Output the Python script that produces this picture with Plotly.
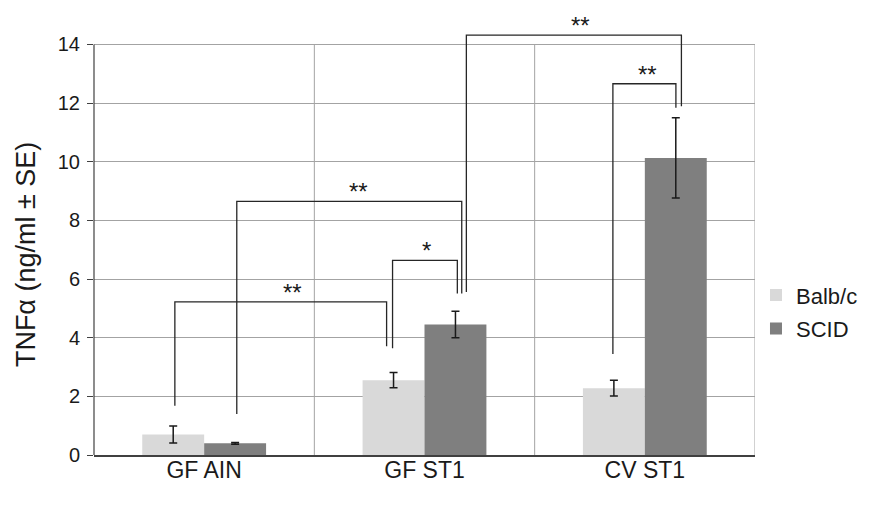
import plotly.graph_objects as go

categories = ["GF AIN", "GF ST1", "CV ST1"]
balbc = [0.70, 2.55, 2.28]
balbc_se = [0.29, 0.26, 0.27]
scid = [0.40, 4.45, 10.13]
scid_se = [0.03, 0.45, 1.37]
y_ticks = [0, 2, 4, 6, 8, 10, 12, 14]
y_title = "TNFα (ng/ml ± SE)"

# significance brackets: x-left, x-right (category units), top, left foot, right foot, label
sig_x_left = [-0.133, 0.148, 0.855, 1.190, 1.855]
sig_x_right = [0.828, 1.169, 1.149, 2.166, 2.141]
sig_top = [5.22, 8.65, 6.64, 14.32, 12.66]
sig_left_foot = [1.68, 1.40, 3.64, 5.56, 3.44]
sig_right_foot = [3.71, 5.51, 5.51, 11.89, 11.84]
sig_label = ["**", "**", "*", "**", "**"]
sig_label_x = [0.40, 0.70, 1.01, 1.71, 2.01]

FONT = "Liberation Sans, Arial, sans-serif"
GRID = "#a3a3a3"

fig = go.Figure()
fig.add_trace(go.Bar(
    name="Balb/c", x=categories, y=balbc, marker_color="#d9d9d9",
    marker_line_width=0, legendgroup="a",
    error_y=dict(type="data", array=balbc_se, color="#1a1a1a", thickness=1.5, width=4),
))
fig.add_trace(go.Bar(
    name="SCID", x=categories, y=scid, marker_color="#7f7f7f",
    marker_line_width=0, legendgroup="b",
    error_y=dict(type="data", array=scid_se, color="#1a1a1a", thickness=1.5, width=4),
))

shapes = []
# category boundary grid lines and right border
for xb in [0.5, 1.5, 2.5]:
    shapes.append(dict(type="line", xref="x", yref="y", x0=xb, x1=xb, y0=0, y1=14,
                       line=dict(color=GRID, width=1), layer="below"))
# y axis line up to 14
shapes.append(dict(type="line", xref="paper", yref="y", x0=0, x1=0, y0=0, y1=14,
                   line=dict(color="#404040", width=1.2), layer="above"))

annotations = []
for xl, xr, top, lf, rf, lab, lx in zip(sig_x_left, sig_x_right, sig_top,
                                       sig_left_foot, sig_right_foot, sig_label, sig_label_x):
    shapes.append(dict(type="path", xref="x", yref="y",
                       path=f"M {xl},{lf} L {xl},{top} L {xr},{top} L {xr},{rf}",
                       line=dict(color="#262626", width=1.3)))
    annotations.append(dict(x=lx, y=top, xref="x", yref="y", text=lab, showarrow=False,
                            yanchor="bottom", yshift=-6,
                            font=dict(family=FONT, size=24, color="#1a1a1a")))

# y-axis title (centred on the 0-14 span of the axis)
annotations.append(dict(x=-0.1029, xref="paper", y=6.85, yref="y", text=y_title,
                        textangle=-90, showarrow=False, xanchor="center", yanchor="middle",
                        font=dict(family=FONT, size=27, color="#1a1a1a")))

fig.update_layout(
    width=875, height=505,
    margin=dict(l=86, r=128, t=12.5, b=58, autoexpand=False),
    paper_bgcolor="white", plot_bgcolor="white",
    barmode="group", bargap=0.438, bargroupgap=0,
    font=dict(family=FONT, color="#1a1a1a"),
    shapes=shapes, annotations=annotations,
    legend=dict(x=1.0015, y=0.329, xanchor="left", yanchor="middle",
                font=dict(family=FONT, size=22, color="#1a1a1a"),
                tracegroupgap=2, bgcolor="rgba(0,0,0,0)"),
    showlegend=True,
)
fig.update_xaxes(
    type="category", range=[-0.5, 2.5], showgrid=False, showline=True,
    linecolor="#404040", linewidth=1.5, ticks="", automargin=False,
    tickfont=dict(family=FONT, size=23, color="#1a1a1a"), ticklabelstandoff=-6,
)
fig.update_yaxes(
    range=[0, 14.8], tickvals=y_ticks, showgrid=True, gridcolor=GRID, gridwidth=1,
    showline=False, zeroline=False, ticks="outside", ticklen=6, tickcolor="#404040",
    tickfont=dict(family=FONT, size=20, color="#1a1a1a"), ticklabelstandoff=3,
    automargin=False,
)

fig.write_html("out.html")
